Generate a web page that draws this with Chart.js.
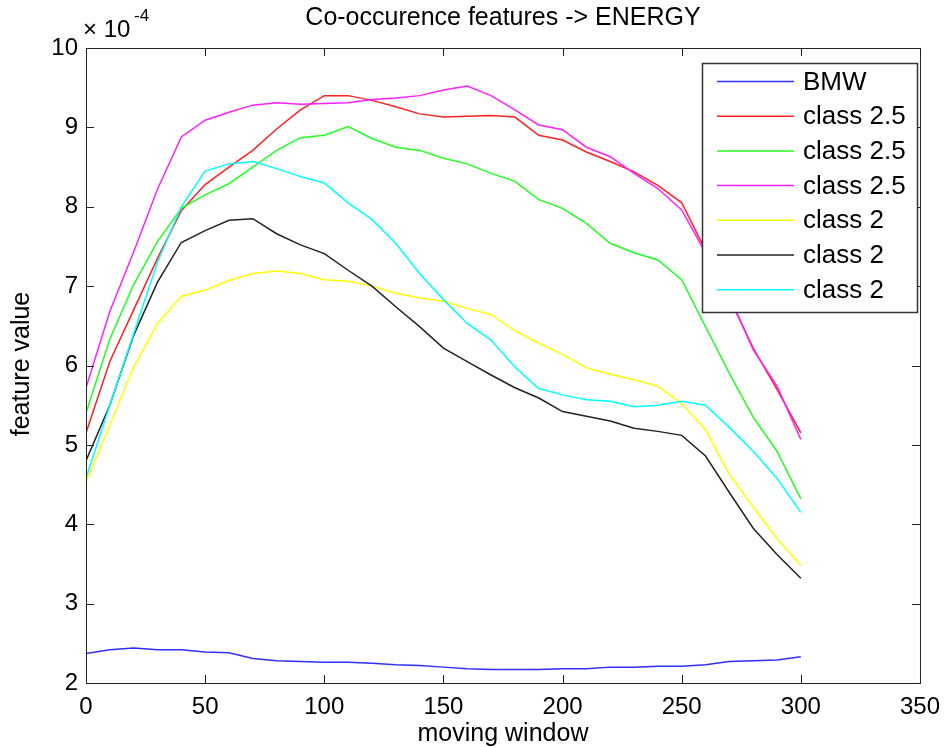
<!DOCTYPE html>
<html>
<head>
<meta charset="utf-8">
<script src="https://cdn.jsdelivr.net/npm/chart.js@4"></script>
<style>
    html, body { margin: 0; padding: 0; background: #fff; }
    #wrap { width: 950px; height: 747px; }
</style>
</head>
<body>
<div id="wrap"><canvas id="grafica"></canvas></div>
<script>
// moving window position (samples every 10 steps)
const windowPos = [0, 10, 20, 30, 40, 50, 60, 70, 80, 90, 100, 110, 120, 130, 140, 150,
    160, 170, 180, 190, 200, 210, 220, 230, 240, 250, 260, 270, 280, 290, 300];

// energy values, in units of 1e-4
const bmw = [2.37, 2.42, 2.44, 2.42, 2.42, 2.39, 2.38, 2.31, 2.28, 2.27, 2.26, 2.26, 2.25, 2.23, 2.22, 2.20,
    2.18, 2.17, 2.17, 2.17, 2.18, 2.18, 2.20, 2.20, 2.21, 2.21, 2.23, 2.27, 2.28, 2.29, 2.33];
const class25a = [5.15, 6.05, 6.70, 7.35, 7.95, 8.28, 8.50, 8.71, 8.98, 9.22, 9.40, 9.40, 9.34, 9.26, 9.17, 9.13,
    9.14, 9.15, 9.13, 8.90, 8.84, 8.69, 8.57, 8.44, 8.27, 8.05, 7.45, 6.85, 6.22, 5.70, 5.15];
const class25b = [5.40, 6.33, 7.02, 7.56, 7.98, 8.15, 8.29, 8.50, 8.71, 8.87, 8.90, 9.01, 8.86, 8.75, 8.71, 8.61,
    8.54, 8.42, 8.32, 8.09, 7.98, 7.79, 7.54, 7.42, 7.33, 7.08, 6.49, 5.90, 5.35, 4.92, 4.32];
const class25c = [5.72, 6.68, 7.43, 8.22, 8.88, 9.09, 9.19, 9.28, 9.31, 9.29, 9.30, 9.31, 9.35, 9.37, 9.40, 9.47,
    9.52, 9.40, 9.22, 9.03, 8.97, 8.75, 8.63, 8.42, 8.23, 7.96, 7.42, 6.88, 6.20, 5.74, 5.07];
const class2a = [4.53, 5.24, 5.98, 6.53, 6.87, 6.95, 7.07, 7.16, 7.19, 7.16, 7.08, 7.06, 7.00, 6.91, 6.85, 6.81,
    6.72, 6.64, 6.44, 6.28, 6.14, 5.97, 5.89, 5.82, 5.74, 5.52, 5.19, 4.63, 4.22, 3.82, 3.48];
const class2b = [4.80, 5.50, 6.38, 7.05, 7.55, 7.70, 7.83, 7.85, 7.66, 7.52, 7.41, 7.20, 7.00, 6.74, 6.49, 6.22,
    6.05, 5.88, 5.72, 5.59, 5.42, 5.36, 5.30, 5.21, 5.17, 5.12, 4.86, 4.40, 3.95, 3.62, 3.32];
const class2c = [4.58, 5.50, 6.40, 7.30, 8.00, 8.45, 8.54, 8.57, 8.48, 8.38, 8.30, 8.05, 7.84, 7.54, 7.16, 6.83,
    6.53, 6.32, 5.98, 5.71, 5.63, 5.57, 5.55, 5.48, 5.50, 5.55, 5.50, 5.22, 4.92, 4.58, 4.15];

const seriesNames = ['BMW', 'class 2.5', 'class 2.5', 'class 2.5', 'class 2', 'class 2', 'class 2'];
const seriesValues = [bmw, class25a, class25b, class25c, class2a, class2b, class2c];
const seriesColors = ['#2f2fff', '#ff2020', '#20ff20', '#ff20ff', '#ffff00', '#222222', '#00ffff'];

const xTicks = [0, 50, 100, 150, 200, 250, 300, 350];
const yTicks = [2, 3, 4, 5, 6, 7, 8, 9, 10];

const FONT = '"Liberation Sans", Arial, sans-serif';

// matlab style box: ticks inside on all 4 sides, title, labels, legend over the lines
const matlabFrame = {
    id: 'matlabFrame',
    afterDatasetsDraw(chart) {
        const ctx = chart.ctx;
        const a = chart.chartArea;
        const xs = chart.scales.x;
        const ys = chart.scales.y;
        ctx.save();
        ctx.strokeStyle = '#222';
        ctx.lineWidth = 1;
        ctx.strokeRect(a.left + 0.5, a.top + 0.5, a.right - a.left, a.bottom - a.top);
        ctx.beginPath();
        xTicks.forEach(v => {
            const px = Math.round(xs.getPixelForValue(v)) + 0.5;
            ctx.moveTo(px, a.bottom); ctx.lineTo(px, a.bottom - 8);
            ctx.moveTo(px, a.top); ctx.lineTo(px, a.top + 8);
        });
        yTicks.forEach(v => {
            const py = Math.round(ys.getPixelForValue(v)) + 0.5;
            ctx.moveTo(a.left, py); ctx.lineTo(a.left + 8, py);
            ctx.moveTo(a.right, py); ctx.lineTo(a.right - 8, py);
        });
        ctx.stroke();

        // legend
        const lx = 702, ly = 63, lw = 215, lh = 249;
        ctx.fillStyle = '#fff';
        ctx.fillRect(lx, ly, lw, lh);
        ctx.strokeStyle = '#333';
        ctx.lineWidth = 1.5;
        ctx.strokeRect(lx + 0.5, ly + 0.5, lw, lh);
        ctx.font = '26px ' + FONT;
        ctx.textBaseline = 'middle';
        ctx.textAlign = 'left';
        seriesNames.forEach((name, i) => {
            const rowY = 81.5 + i * 34.7;
            ctx.strokeStyle = seriesColors[i];
            ctx.lineWidth = 1.5;
            ctx.beginPath();
            ctx.moveTo(717, rowY); ctx.lineTo(794, rowY);
            ctx.stroke();
            ctx.fillStyle = '#000';
            ctx.fillText(name, 803, rowY + 1);
        });

        // titles
        ctx.fillStyle = '#000';
        ctx.textAlign = 'center';
        ctx.font = '25px ' + FONT;
        ctx.fillText('Co-occurence features -> ENERGY', (a.left + a.right) / 2, 18);
        ctx.fillText('moving window', (a.left + a.right) / 2, 734);
        ctx.save();
        ctx.translate(22, 364);
        ctx.rotate(-Math.PI / 2);
        ctx.fillText('feature value', 0, 0);
        ctx.restore();

        // exponent of the y axis
        ctx.textAlign = 'left';
        ctx.font = '24px ' + FONT;
        ctx.fillText('\u00d7 10', 83, 30);
        ctx.font = '17px ' + FONT;
        ctx.fillText('-4', 134, 16);
        ctx.restore();
    }
};

function main() {
    const ctx = document.getElementById('grafica').getContext('2d');

    const datasets = seriesValues.map((vals, i) => ({
        label: seriesNames[i],
        data: windowPos.map((x, k) => ({ x: x, y: vals[k] })),
        borderColor: seriesColors[i],
        borderWidth: 1.5,
        pointRadius: 0,
        tension: 0,
        fill: false,
        order: 10 - i
    }));

    new Chart(ctx, {
        type: 'line',
        data: { datasets: datasets },
        options: {
            responsive: true,
            maintainAspectRatio: false,
            animation: false,
            layout: { padding: { left: 0, right: 24, top: 48, bottom: 0 } },
            plugins: {
                legend: { display: false },
                tooltip: { enabled: false },
                title: { display: false }
            },
            scales: {
                x: {
                    type: 'linear',
                    min: 0,
                    max: 350,
                    afterBuildTicks: s => { s.ticks = xTicks.map(v => ({ value: v })); },
                    afterFit: s => { s.height = 64; },
                    grid: { display: false, drawTicks: false },
                    border: { display: false },
                    ticks: { padding: 10, color: '#000', font: { family: FONT, size: 24 }, maxRotation: 0 }
                },
                y: {
                    type: 'linear',
                    min: 2,
                    max: 10,
                    afterBuildTicks: s => { s.ticks = yTicks.map(v => ({ value: v })); },
                    afterFit: s => { s.width = 86; },
                    grid: { display: false, drawTicks: false },
                    border: { display: false },
                    ticks: { padding: 8, color: '#000', font: { family: FONT, size: 24 } }
                }
            }
        },
        plugins: [matlabFrame]
    });
}

document.addEventListener('DOMContentLoaded', function() {
    main();
});
</script>
</body>
</html>
